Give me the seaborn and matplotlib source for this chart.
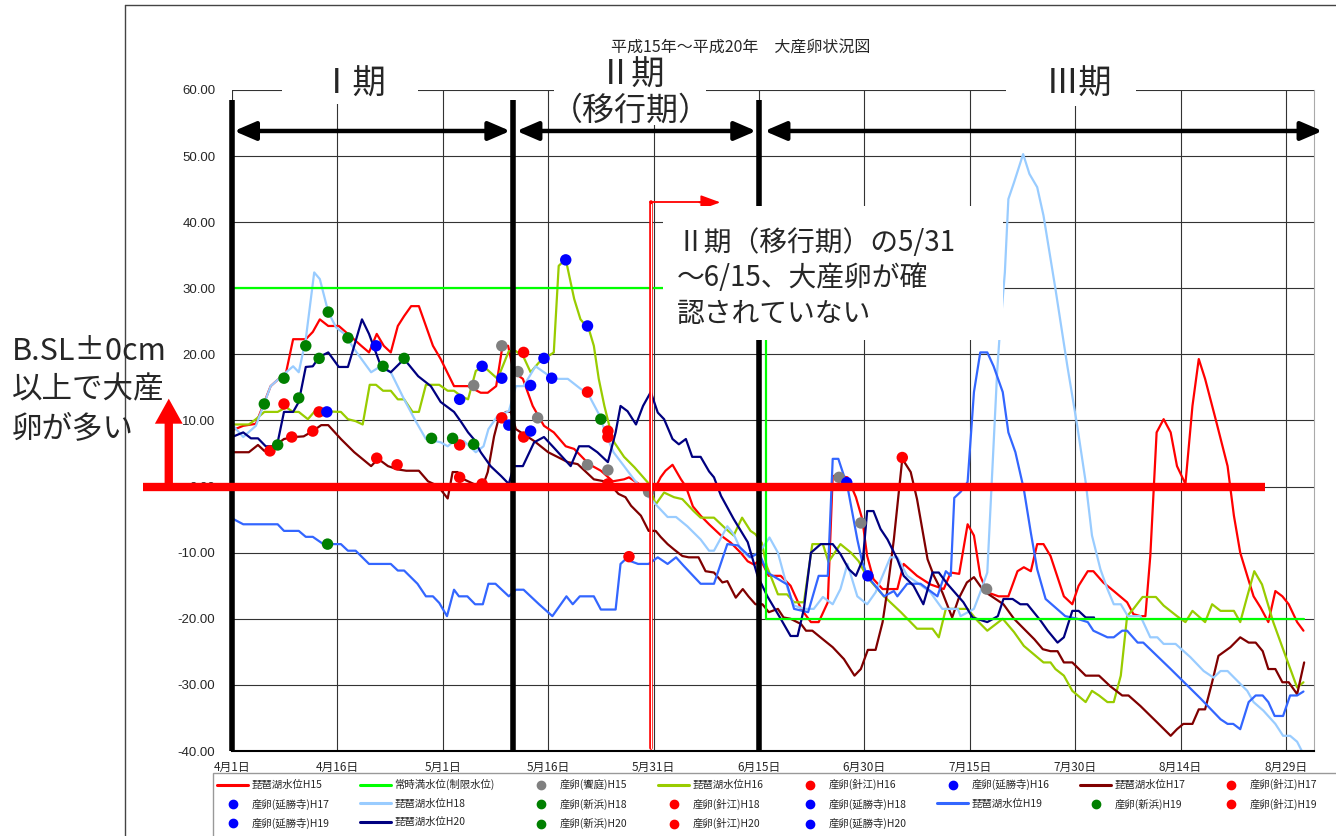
import matplotlib
matplotlib.use("Agg")
import matplotlib.pyplot as plt
from matplotlib.lines import Line2D
from matplotlib.patches import Rectangle
import pandas as pd
import seaborn as sns

sns.set_style("white")
plt.rcParams["font.family"] = ["Noto Sans CJK JP", "DejaVu Sans"]

# x = days counted from 4/1, y = lake level (cm, B.S.L.)
tick_days = [0, 15, 30, 45, 60, 75, 90, 105, 120, 135, 150]
tick_labels = ["4月1日", "4月16日", "5月1日", "5月16日", "5月31日", "6月15日",
               "6月30日", "7月15日", "7月30日", "8月14日", "8月29日"]

h15_day = [0, 1.6, 3.4, 5.5, 7.7, 8.7, 10.5, 11.5, 12.5, 13.7, 15.2, 16.5, 18.4, 19.5, 20.6, 21.6, 22.6,
           23.6, 24.5, 25.5, 26.6, 28.6, 29.7, 31.6, 33.6, 35.4, 36.4, 37.6, 38.5, 39.3, 40.1, 41.4, 42.8,
           44.4, 45.8, 47.5, 48.7, 50.8, 52.5, 54.2, 55.8, 56.5, 57.9, 59.2, 60.3, 61, 61.7, 62.7, 63.9,
           64.6, 65.6, 66.7, 67.9, 69.6, 71, 72.4, 73.4, 74.3, 75.2, 76.4, 78.1, 79.5, 81, 82.4, 83.5,
           84.8, 85.5, 86.6, 87.6, 88.8, 89.7, 90.4, 91.3, 92.6, 94.7, 95.6, 97.5, 99.4, 101.3, 102.3,
           103.5, 104.7, 105.6, 106.5, 107.5, 109.1, 110.5, 111.8, 112.7, 113.7, 114.6, 115.5, 116.5,
           118.4, 119.6, 120.5, 121.8, 122.6, 124, 125.5, 127.4, 128.3, 129.3, 130, 130.7, 131.6, 132.6,
           133.6, 134.5, 135.7, 136.7, 137.6, 138.5, 140, 141.7, 142.6, 143.5, 144.5, 145.4, 146.4,
           147.5, 148.5, 149.5, 150.4, 151.6, 152.5]
h15_level = [8.5, 9.2, 9.5, 15.2, 17.3, 22.3, 22.3, 23.4, 25.3, 24.3, 24.3, 23.1, 21.3, 20.3, 23.1, 21.3, 20.3,
             24.3, 25.8, 27.3, 27.3, 21.3, 19.3, 15.2, 15.2, 14.2, 14.2, 15.2, 21.3, 21.3, 17.3, 16.3, 12.2,
             9.2, 8.2, 6.1, 5.7, 3.4, 2.4, 0.8, 1.1, 1.4, 0.4, -0.6, -0.1, 1.4, 2.4, 3.3, 1.1,
             0.0, -3.0, -4.4, -5.7, -7.4, -8.5, -10.0, -11.3, -11.8, -11.0, -13.5, -13.5, -15.0, -18.5, -20.5, -20.5,
             -17.5, 1.6, 1.6, 1.4, -1.6, -4.9, -10.5, -14.0, -15.5, -15.5, -11.7, -13.5, -14.8, -15.5, -13.0,
             -13.2, -5.7, -7.4, -13.5, -16.0, -16.6, -16.6, -12.8, -12.2, -12.8, -8.7, -8.7, -10.5,
             -16.6, -17.8, -15.0, -12.8, -12.8, -14.5, -15.8, -17.5, -19.3, -19.6, -19.6, -10.5, 8.2, 10.2,
             8.2, 3.1, 0.4, 12.2, 19.3, 16.3, 10.2, 3.1, -4.4, -10.0, -13.5, -16.6, -18.3,
             -20.5, -15.8, -16.6, -17.8, -20.5, -21.8]

h16_day = [0, 2.4, 3.4, 4.6, 6.5, 7.7, 8.7, 9.5, 10.8, 11.7, 12.7, 15.5, 16.5, 17.6, 18.6, 19.6, 20.5, 21.5,
           22.6, 23.6, 24.5, 25.7, 26.6, 27.6, 29.5, 30.7, 31.6, 32.6, 33.6, 34.7, 35.8, 37.8, 39.4, 40.4,
           41.5, 42.5, 43.7, 45.8, 46.5, 47.5, 48.7, 49.6, 50.8, 51.5, 52.2, 53, 53.7, 54.4, 55.8, 57.3,
           59.2, 60.3, 61.5, 62.9, 64.1, 65.7, 66.7, 68.6, 70.3, 71.4, 72.6, 73.8, 74.5, 75.4, 76.1, 77.7,
           79, 80, 81.4, 82.6, 84.1, 84.9, 86.6, 88.1, 89.2, 90.4, 92.8, 95.2, 97.5, 99.7, 100.6, 101.6,
           104.7, 106.1, 107.5, 109.7, 111.3, 112.7, 114.6, 115.5, 116.5, 117.2, 118.4, 119.6, 121.5,
           122.4, 123.4, 124.6, 125.5, 126.5, 127.4, 128.3, 129.6, 131.5, 132.6, 134.5, 135.7, 136.7,
           138.5, 139.5, 140.7, 142.6, 143.5, 144.5, 145.5, 146.6, 148.2, 149.6, 151.6, 152.5]
h16_level = [9.4, 9.4, 10.2, 11.3, 11.3, 12.0, 11.3, 11.3, 10.2, 11.3, 11.4, 11.3, 10.2, 9.9, 9.4, 15.4, 15.4, 14.5,
             14.5, 13.2, 13.2, 11.3, 11.3, 15.4, 15.4, 14.5, 14.5, 13.7, 13.2, 17.5, 18.2, 16.3, 20.5, 20.5,
             19.6, 17.3, 18.8, 20.3, 33.4, 34.4, 28.4, 25.3, 23.8, 21.3, 16.3, 12.2, 9.2, 6.7, 4.5, 2.9,
             0.6, -2.7, -0.9, -1.6, -1.9, -3.7, -4.7, -4.7, -6.4, -7.4, -4.7, -6.7, -7.2, -8.5, -12.0, -16.3,
             -16.3, -17.5, -17.5, -8.7, -8.7, -11.4, -8.7, -10.0, -11.3, -13.7, -16.6, -19.0, -21.5, -21.5, -22.8, -18.5,
             -18.5, -20.3, -21.8, -20.0, -22.0, -24.1, -25.8, -26.6, -26.6, -27.6, -28.6, -30.9, -32.6,
             -30.9, -31.6, -32.6, -32.6, -28.6, -19.6, -18.5, -16.7, -16.7, -18.0, -19.6, -20.5, -18.8,
             -20.5, -17.8, -18.8, -18.8, -20.5, -16.6, -12.8, -14.8, -20.5, -24.6, -30.4, -29.6]

h17_day = [0, 2.4, 3.7, 4.6, 6, 7.4, 8.8, 10.2, 11.5, 12.7, 13.7, 15.5, 17.4, 19.8, 20.8, 22.2, 23.6, 24.8,
           26.6, 27.9, 29.3, 30.7, 31.4, 32.1, 33, 34.4, 35.7, 36.4, 37.3, 38, 39, 39.7, 40.4, 43, 45,
           47.8, 49.2, 51.5, 53.5, 55, 56, 56.8, 58.2, 59.3, 60.3, 61, 62, 62.9, 64.1, 65, 66.4, 67.4,
           68.6, 69.8, 70.5, 71.7, 72.7, 73.5, 74.5, 75.5, 76.4, 77.7, 78.5, 79.5, 81, 81.7, 82.6, 84.1,
           85.5, 87.1, 88.6, 89.5, 90.5, 91.6, 92.6, 93.3, 94.2, 95.4, 96.6, 97.5, 99, 99.9, 101.1, 102.5,
           103.4, 104.6, 105.6, 107, 108.4, 109.8, 111.3, 112.7, 114.2, 115.4, 116.5, 117.5, 118.4,
           119.6, 121.5, 123.4, 125, 126.7, 127.6, 129.3, 131.7, 133.6, 134.5, 135.4, 136.7, 137.6,
           138.5, 139.5, 140.4, 142.1, 143.5, 144.7, 145.7, 146.7, 147.5, 148.5, 149.5, 150.4, 151.6, 152.6]
h17_level = [5.2, 5.2, 6.3, 5.4, 6.1, 7.2, 7.5, 7.6, 8.4, 9.3, 9.3, 7.2, 5.2, 3.1, 4.2, 3.1, 2.6, 2.4,
             2.4, 0.8, 0.1, -1.8, 2.2, 2.2, 1.1, 0.4, 0.1, 2.2, 7.6, 10.5, 11.3, 11.3, 8.7, 6.9, 5.2,
             3.7, 3.4, 1.1, 0.7, -1.1, -1.6, -2.9, -4.4, -6.7, -6.7, -7.6, -8.7, -9.5, -10.5, -10.7, -10.7, -12.8,
             -13.0, -14.5, -14.3, -16.8, -15.5, -16.6, -17.8, -17.8, -19.0, -18.5, -19.8, -20.0, -20.8, -21.8, -21.8, -23.1,
             -24.3, -26.1, -28.6, -27.6, -24.7, -24.7, -20.5, -15.5, -8.0, 4.2, 2.2, -1.9, -11.0, -13.5, -16.0, -19.8,
             -17.0, -14.5, -13.7, -15.8, -16.8, -17.8, -20.0, -21.5, -23.1, -24.6, -24.9, -24.9, -26.6,
             -26.6, -28.6, -28.6, -30.2, -31.6, -31.6, -33.2, -35.7, -37.7, -36.7, -35.9, -35.9, -33.7,
             -33.7, -29.6, -25.6, -24.3, -22.8, -23.6, -23.6, -24.9, -27.6, -27.6, -29.6, -29.6, -31.4, -26.6]

h18_day = [0, 1.6, 3.4, 5.5, 7.7, 8.7, 9.5, 10.5, 11.7, 12.5, 13.7, 14.8, 16, 17.4, 19.8, 21, 22.6, 24.5,
           26.2, 27.6, 29.7, 30.7, 31.6, 33, 34.7, 35.8, 36.5, 37.8, 39.4, 40.4, 41.5, 43.2, 44.4, 45.8,
           47.8, 49.6, 50.6, 52.2, 53.5, 54.3, 55.8, 57.2, 59.6, 62, 63.2, 64.8, 66.7, 67.9, 68.6, 70.5,
           71.4, 72.4, 73.6, 75, 76.5, 77.7, 79.1, 80, 81.4, 82.8, 84.1, 85.5, 86.6, 87.6, 89, 90.4, 91.6,
           93.7, 94.7, 96.1, 97.5, 99.4, 101.1, 103.3, 103.7, 105.6, 106.5, 107.5, 108.2, 108.9, 109.2,
           110, 110.5, 111.3, 112.6, 113.5, 114.6, 115.5, 117.2, 118.9, 120.3, 121.5, 122.4, 123.6,
           124.6, 125.5, 126.5, 127.5, 129.3, 130.7, 131.7, 132.6, 134.3, 136.4, 138.3, 139.7, 140.7,
           141.7, 143.1, 144.5, 145.4, 146.8, 148.5, 149.6, 150.6, 151.6, 152.6]
h18_level = [9.4, 7.5, 9.2, 15.2, 17.3, 18.2, 17.3, 22.3, 32.4, 31.4, 26.4, 24.1, 23.1, 20.8, 17.3, 18.1, 17.3, 13.2,
             9.8, 7.2, 6.7, 6.1, 6.9, 6.9, 5.2, 6.1, 8.7, 10.7, 11.4, 15.2, 15.2, 18.2, 17.3, 16.3,
             16.3, 14.8, 14.2, 11.0, 7.2, 5.2, 3.1, 1.1, -1.9, -4.6, -4.6, -6.0, -8.0, -9.7, -9.7, -6.0,
             -7.2, -9.5, -10.7, -10.0, -7.7, -10.0, -15.5, -18.0, -18.5, -18.5, -16.7, -17.8, -15.5, -11.7, -16.6, -17.8, -16.0,
             -10.7, -10.7, -13.5, -14.5, -16.0, -18.5, -18.5, -19.6, -18.5, -16.0, -13.0, 2.1, 17.3, 22.0,
             32.4, 43.5, 46.0, 50.3, 47.3, 45.3, 41.0, 29.9, 18.2, 9.2, 0.7, -7.4, -12.5,
             -15.5, -17.8, -17.8, -19.6, -19.6, -22.8, -22.8, -23.8, -23.8, -25.8, -27.9, -28.9, -27.9,
             -27.9, -29.4, -30.9, -32.6, -33.9, -35.9, -37.7, -37.7, -38.6, -40.7]

h19_day = [0, 1.6, 6.5, 7.4, 9.5, 10.5, 11.5, 13, 15.5, 16.5, 17.6, 19.5, 22.6, 23.6, 24.5, 26.4, 27.6, 28.6,
           29.5, 30.6, 31.6, 32.3, 33.5, 34.6, 35.7, 36.5, 37.5, 39.4, 40.4, 41.5, 43.7, 45.6, 46.8, 47.6,
           48.5, 49.5, 51.5, 52.5, 54.6, 55.3, 56, 57.8, 59.3, 60.6, 62, 63.2, 64.3, 66.7, 68.6, 70.5, 72,
           73.8, 75, 76.2, 79, 80, 82, 83.5, 84.8, 85.5, 86.3, 87.6, 89, 89.7, 90.4, 92.8, 94.2, 94.7, 96.1,
           98, 100.4, 101.6, 102.3, 102.8, 103.7, 104.7, 105.6, 106.5, 107.5, 108.4, 109.7, 110.5, 111.5,
           112.7, 113.7, 114.6, 115.8, 118.6, 120.3, 121.8, 122.6, 124.6, 125.5, 126.7, 127.4, 128.9,
           129.7, 133.6, 137.8, 140.7, 141.7, 142.5, 143.5, 144.7, 145.7, 146.7, 147.5, 148.4, 149.6,
           150.6, 151.6, 152.5]
h19_level = [-4.8, -5.7, -5.7, -6.7, -6.7, -7.6, -7.6, -8.7, -8.7, -9.7, -9.7, -11.7, -11.7, -12.7, -12.7, -14.7, -16.6, -16.6,
             -17.6, -19.6, -15.6, -16.6, -16.6, -17.8, -17.8, -14.7, -14.7, -16.6, -15.6, -15.6, -17.8, -19.6, -17.8, -16.6,
             -17.8, -16.6, -16.6, -18.6, -18.6, -11.7, -11.0, -11.7, -11.7, -10.7, -11.7, -10.7, -12.0, -14.7, -14.7, -8.7, -8.9,
             -10.7, -10.0, -13.0, -14.8, -18.5, -19.0, -13.5, -13.5, 4.2, 4.2, 0.0, -8.0, -11.4, -13.5, -16.6, -15.8, -16.6, -14.7,
             -14.7, -16.6, -12.8, -13.5, -1.7, -0.8, 0.7, 14.3, 20.3, 20.3, 18.2, 14.3, 8.2, 5.2,
             -0.4, -7.0, -12.5, -17.0, -19.6, -20.0, -20.5, -21.8, -22.8, -22.8, -21.8, -21.8, -23.6,
             -23.6, -27.6, -32.0, -35.2, -35.9, -35.9, -36.7, -32.6, -31.6, -31.6, -32.6, -34.7, -34.7,
             -31.6, -31.6, -31.0]

h20_day = [0, 1.6, 2.7, 3.7, 4.8, 5.8, 6.5, 7.4, 8.7, 9.5, 10.5, 11.5, 12.4, 13.7, 15.2, 16.5, 17.4, 18.5,
           19.5, 21.2, 22.6, 24.5, 26.5, 28.3, 29.7, 31.6, 32.6, 33.6, 34.4, 35.4, 36.8, 38.3, 39.4, 40.1,
           41.4, 43, 44.4, 45.8, 48.2, 49.4, 50.8, 52, 53.5, 54.6, 55.3, 56.3, 57.5, 58.5, 59.6, 60.6,
           61.5, 62.7, 63.6, 64.6, 65.5, 66.7, 67.9, 68.6, 69.6, 71.4, 73.4, 74.8, 76.2, 78.1, 79.5, 80.5,
           81.4, 82.4, 83.8, 85.5, 86.6, 87.8, 88.8, 89.8, 90.4, 91.3, 92.3, 93.3, 94.7, 95.6, 97, 98.4,
           99.7, 100.6, 101.8, 104.1, 105.4, 107.5, 109, 109.8, 111.1, 112.2, 113.2, 115.1, 116.1, 117.5,
           118.4, 119.6, 120.5, 121.5, 122.7]
h20_level = [7.5, 8.2, 7.3, 7.3, 6.1, 6.1, 6.7, 11.3, 11.3, 12.8, 18.1, 18.2, 19.6, 20.3, 18.1, 18.1, 21.3, 25.3,
             23.1, 18.2, 17.3, 19.3, 16.7, 15.2, 12.8, 11.3, 9.8, 8.2, 7.2, 5.2, 3.1, 1.6, 0.4, 3.1,
             3.1, 6.7, 7.5, 5.9, 3.1, 6.1, 6.1, 5.2, 3.7, 8.2, 12.2, 11.4, 9.4, 12.2, 14.3, 11.2,
             10.2, 7.2, 6.4, 7.2, 4.5, 4.5, 2.3, 1.4, -1.4, -4.9, -8.4, -13.5, -16.6, -20.0, -22.6, -22.6,
             -18.5, -10.0, -8.7, -8.7, -10.2, -12.5, -13.5, -11.0, -3.7, -3.7, -6.4, -8.0, -11.0, -13.5, -15.0, -17.8,
             -13.0, -13.0, -14.7, -17.5, -19.8, -20.5, -19.6, -17.0, -17.0, -17.8, -17.8, -20.3, -21.8, -23.6,
             -22.8, -18.8, -18.8, -19.8, -19.8]

# 常時満水位 (制限水位): +30 until mid-June, -20 afterwards
limit_day = [0, 76, 76, 152.6]
limit_level = [30, 30, -20, -20]

# spawning observations, by site
aiba_day = [34.4, 38.4, 40.7, 43.5, 50.6, 53.5, 59.3, 86.4, 89.5, 107.4]
aiba_level = [15.3, 21.3, 17.4, 10.4, 3.3, 2.5, -0.8, 1.4, -5.5, -15.5]
harie_day = [5.4, 7.4, 8.5, 11.5, 12.4, 20.6, 23.5, 32.4, 32.4, 35.6, 38.4, 41.5, 41.5, 50.6, 53.5,
             53.5, 53.5, 56.5, 95.4]
harie_level = [5.4, 12.5, 7.5, 8.4, 11.3, 4.3, 3.3, 6.3, 1.4, 0.4, 10.4, 20.3, 7.5, 14.3, 8.4,
               7.5, 0.4, -10.6, 4.4]
enshoji_day = [13.5, 20.5, 32.4, 35.6, 38.4, 39.4, 42.5, 42.5, 44.4, 45.5, 47.5, 50.6, 87.5, 90.5]
enshoji_level = [11.3, 21.3, 13.2, 18.2, 16.4, 9.3, 15.3, 8.4, 19.4, 16.4, 34.3, 24.3, 0.6, -13.5]
shinhama_day = [4.6, 6.5, 7.4, 9.5, 10.5, 12.4, 13.7, 13.6, 16.5, 21.5, 24.5, 28.4, 31.4, 34.4, 52.5]
shinhama_level = [12.5, 6.3, 16.4, 13.4, 21.3, 19.4, 26.4, -8.7, 22.5, 18.2, 19.4, 7.3, 7.3, 6.4, 10.2]

line_colors = {"H15": "#FF0000", "H16": "#99CC00", "H17": "#800000",
               "H18": "#99CCFF", "H19": "#3366FF", "H20": "#000080"}
site_colors = {"饗庭": "#808080", "針江": "#FF0000", "延勝寺": "#0000FF", "新浜": "#008000"}

lines = pd.concat([
    pd.DataFrame({"day": d, "level": v, "year": y})
    for y, d, v in [("H15", h15_day, h15_level), ("H16", h16_day, h16_level),
                    ("H17", h17_day, h17_level), ("H18", h18_day, h18_level),
                    ("H19", h19_day, h19_level), ("H20", h20_day, h20_level)]
], ignore_index=True)
points = pd.concat([
    pd.DataFrame({"day": d, "level": v, "site": s})
    for s, d, v in [("饗庭", aiba_day, aiba_level), ("針江", harie_day, harie_level),
                    ("延勝寺", enshoji_day, enshoji_level), ("新浜", shinhama_day, shinhama_level)]
], ignore_index=True)
limit = pd.DataFrame({"day": limit_day, "level": limit_level})

fig = plt.figure(figsize=(13.36, 8.36), dpi=100)
ax = fig.add_axes([232 / 1336, 1 - 751 / 836, 1082 / 1336, 661 / 836])

sns.lineplot(data=lines, x="day", y="level", hue="year", palette=line_colors,
             hue_order=list(line_colors), estimator=None, sort=False,
             linewidth=1.6, legend=False, ax=ax, zorder=2)
sns.lineplot(data=limit, x="day", y="level", color="#00FF00", estimator=None, sort=False,
             linewidth=1.6, ax=ax, zorder=2.5)
sns.scatterplot(data=points, x="day", y="level", hue="site", palette=site_colors,
                s=68, edgecolor="none", legend=False, ax=ax, zorder=3)

ax.set_xlim(0, 154)
ax.set_ylim(-40, 60)
ax.set_xticks(tick_days)
ax.set_xticklabels(tick_labels, fontsize=8.5)
ax.set_yticks(range(-40, 61, 10))
ax.set_yticklabels([f"{v:.2f}" for v in range(-40, 61, 10)], fontsize=9.5,
                   family=["Liberation Sans", "DejaVu Sans"])
ax.tick_params(axis="both", length=0)
ax.tick_params(axis="y", pad=12)
ax.tick_params(axis="x", pad=7)
ax.set_xlabel("")
ax.set_ylabel("")
ax.grid(True, color="#333333", linewidth=0.8)
ax.set_axisbelow(True)
for side in ["top", "left"]:
    ax.spines[side].set_visible(False)
ax.spines["right"].set_color("#aaaaaa")
ax.spines["bottom"].set_color("black")
ax.spines["bottom"].set_linewidth(1.5)

# period boundaries and arrows
for d in [0, 40, 75]:
    ax.plot([d, d], [-40, 58.5], color="black", lw=4, zorder=4, clip_on=False,
            solid_capstyle="butt")
for a, b in [(0.3, 39.6), (40.5, 74.6), (75.8, 155.2)]:
    ax.annotate("", xy=(b, 53.8), xytext=(a, 53.8), annotation_clip=False, zorder=4,
                arrowprops=dict(arrowstyle="<|-|>,head_length=0.65,head_width=0.28",
                                color="black", lw=3.2, mutation_scale=20,
                                shrinkA=0, shrinkB=0))

# label boxes
for x0, y0, w, h in [(7.1, 57.9, 19.4, 6.5), (45.8, 54.7, 21.6, 9.5), (110.1, 57.6, 18.5, 6.5)]:
    ax.add_patch(Rectangle((x0, y0), w, h, fc="white", ec="none", zorder=6, clip_on=False))
ax.text(17.2, 60.9, "Ⅰ期", fontsize=24, ha="center", va="center", zorder=7)
ax.text(57.0, 62.2, "Ⅱ期", fontsize=24, ha="center", va="center", zorder=7)
ax.text(56.8, 56.8, "（移行期）", fontsize=23, ha="center", va="center", zorder=7)
ax.text(120.5, 60.9, "Ⅲ期", fontsize=24, ha="center", va="center", zorder=7)

# B.S.L. 0 line and arrow
ax.plot([-12.7, 147.0], [0, 0], color="red", lw=6, zorder=5, clip_on=False,
        solid_capstyle="butt")
ax.annotate("", xy=(-9.0, 13.3), xytext=(-9.0, 0), annotation_clip=False, zorder=5,
            arrowprops=dict(arrowstyle="simple,head_length=0.9,head_width=1.0,tail_width=0.3",
                            fc="red", ec="none", mutation_scale=20, shrinkA=0, shrinkB=0))

# transition-period note
ax.plot([59.7, 59.7], [-39.5, 43.0], color="red", lw=2.6, zorder=5)
ax.plot([59.7, 59.7], [-39.5, 42.7], color="white", lw=0.8, zorder=5)
ax.plot([59.5, 67.5], [43.0, 43.0], color="red", lw=1.3, zorder=5)
ax.annotate("", xy=(69.5, 43.0), xytext=(66.5, 43.0), zorder=5,
            arrowprops=dict(arrowstyle="-|>,head_length=0.6,head_width=0.22",
                            color="red", lw=1.2, mutation_scale=20, shrinkA=0, shrinkB=0))
ax.add_patch(Rectangle((61.3, 22.2), 48.5, 20.2, fc="white", ec="none", zorder=6))
ax.text(63.3, 31.5, "Ⅱ期（移行期）の5/31\n～6/15、大産卵が確\n認されていない",
        fontsize=20, ha="left", va="center", linespacing=1.24, zorder=7)

fig.text(741 / 1336, 1 - 47 / 836, "平成15年～平成20年　大産卵状況図", fontsize=11.5,
         ha="center", va="center")
fig.text(12 / 1336, 1 - 390 / 836, "B.SL±0cm\n以上で大産\n卵が多い", fontsize=22,
         ha="left", va="center", linespacing=1.3)

# outer chart border
fig.add_artist(Line2D([125 / 1336, 125 / 1336], [0, 1 - 5 / 836], color="#444444", lw=1,
                      transform=fig.transFigure))
fig.add_artist(Line2D([125 / 1336, 1], [1 - 5 / 836, 1 - 5 / 836], color="#444444", lw=1,
                      transform=fig.transFigure))
# legend frame runs off the right and bottom edges
fig.add_artist(Rectangle((213 / 1336, -0.05), 0.9, 1 - 773 / 836 + 0.05, fc="white",
                         ec="#999999", lw=1, transform=fig.transFigure, zorder=0))

# legend (row-major in the original, matplotlib fills columns)
legend_rows = [
    [("line", "#FF0000", "琵琶湖水位H15"), ("line", "#00FF00", "常時満水位(制限水位)"),
     ("dot", "#808080", "産卵(饗庭)H15"), ("line", "#99CC00", "琵琶湖水位H16"),
     ("dot", "#FF0000", "産卵(針江)H16"), ("dot", "#0000FF", "産卵(延勝寺)H16"),
     ("line", "#800000", "琵琶湖水位H17"), ("dot", "#FF0000", "産卵(針江)H17")],
    [("dot", "#0000FF", "産卵(延勝寺)H17"), ("line", "#99CCFF", "琵琶湖水位H18"),
     ("dot", "#008000", "産卵(新浜)H18"), ("dot", "#FF0000", "産卵(針江)H18"),
     ("dot", "#0000FF", "産卵(延勝寺)H18"), ("line", "#3366FF", "琵琶湖水位H19"),
     ("dot", "#008000", "産卵(新浜)H19"), ("dot", "#FF0000", "産卵(針江)H19")],
    [("dot", "#0000FF", "産卵(延勝寺)H19"), ("line", "#000080", "琵琶湖水位H20"),
     ("dot", "#008000", "産卵(新浜)H20"), ("dot", "#FF0000", "産卵(針江)H20"),
     ("dot", "#0000FF", "産卵(延勝寺)H20")],
]
handles, labels = [], []
for j in range(8):
    for row in legend_rows:
        if j < len(row):
            kind, col, lab = row[j]
            if kind == "line":
                handles.append(Line2D([], [], color=col, lw=2.2))
            else:
                handles.append(Line2D([], [], color=col, marker="o", ls="none", markersize=6))
            labels.append(lab)
fig.legend(handles, labels, loc="upper left", ncol=8, mode="expand",
           bbox_to_anchor=(213 / 1336, 0.0, 0.83, 1 - 775 / 836), borderaxespad=0,
           fontsize=7.5, frameon=False,
           handlelength=3.0, handletextpad=0.3, labelspacing=0.8, columnspacing=0.5)

fig.savefig("out.png", dpi=100)
